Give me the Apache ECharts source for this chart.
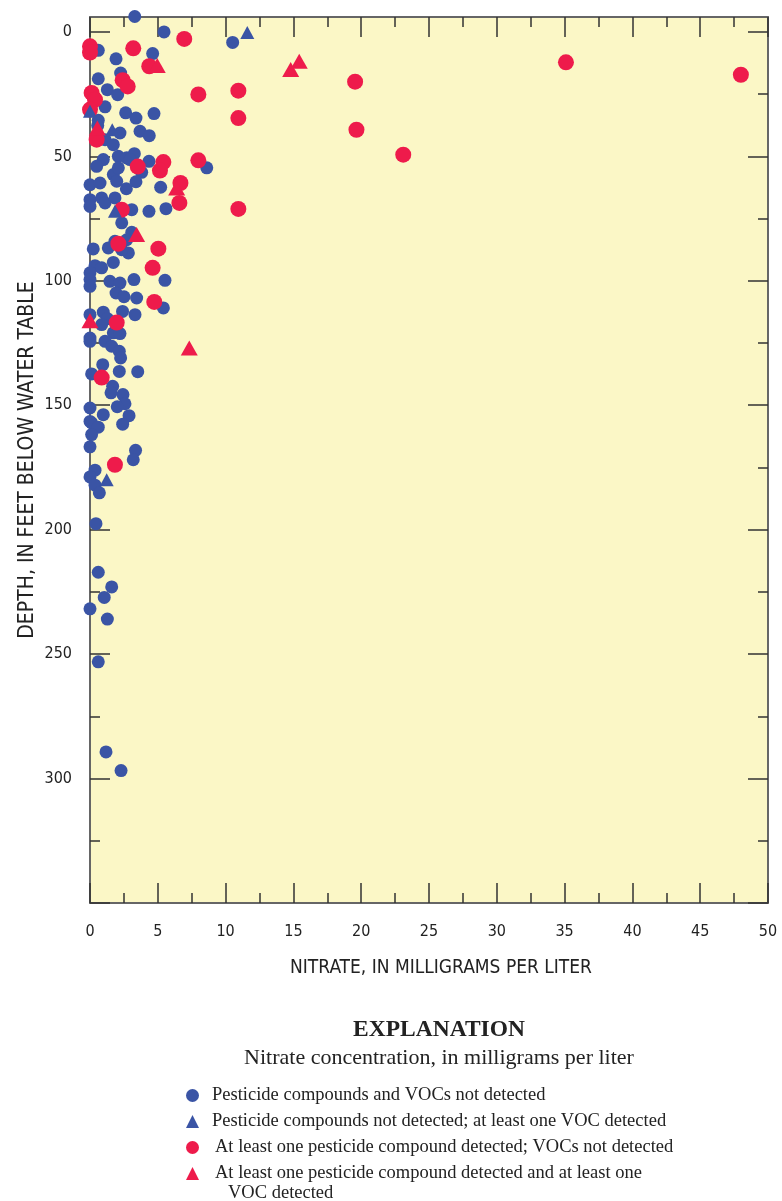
<!DOCTYPE html>
<html>
<head>
<meta charset="utf-8">
<script src="https://cdn.jsdelivr.net/npm/echarts@6/dist/echarts.min.js"></script>
<style>
  html, body { margin: 0; padding: 0; background: #ffffff; }
  #chart { width: 782px; height: 1201px; }
</style>
</head>
<body>
<div id="chart"></div>
<script>
// Nitrate (mg/L) versus depth below the water table (ft), by detection class.
const noDetect = [
  [3.3,-6.2],[5.46,0],[10.52,4.2],[0.61,7.4],[4.62,8.7],[1.92,10.8],[2.26,16.5],[0.61,18.8],
  [1.28,23.2],[2.04,25.2],[1.11,30.1],[2.63,32.5],[3.39,34.6],[4.72,32.8],[0.61,35.5],[0.57,37.6],
  [2.21,40.6],[3.69,39.9],[4.37,41.7],[1.11,43.3],[1.72,45.3],[0.98,51.3],[2.09,50.0],[2.71,50.6],
  [3.27,48.9],[4.35,52.0],[8.61,54.6],[0.49,54.0],[1.72,57.3],[2.09,54.6],[3.81,56.4],[0,61.4],
  [0.74,60.7],[1.97,60.0],[2.68,63.0],[3.39,60.2],[5.21,62.4],[0,67.4],[0,70.1],[0.86,66.7],
  [1.11,68.7],[1.84,66.7],[3.08,71.4],[4.35,72.1],[5.6,71.0],[2.34,76.7],[3.08,80.5],[2.71,83.5],
  [1.84,84.1],[1.35,86.8],[0.24,87.2],[2.83,88.8],[2.34,87.5],[1.72,92.6],[0.37,93.9],[0.86,94.8],
  [0,96.8],[0,99.5],[1.47,100.2],[2.21,100.9],[3.24,99.5],[5.53,99.8],[0,102.2],[1.92,104.9],
  [2.51,106.4],[3.44,106.9],[5.41,110.9],[2.40,112.3],[3.32,113.6],[0,113.6],[0.98,112.6],[1.29,115.2],
  [0.86,117.6],[1.72,120.9],[2.21,121.2],[0,123.0],[0,124.3],[1.11,124.3],[1.6,126.3],[2.16,128.3],
  [2.26,131.0],[0.94,133.7],[0.12,137.4],[2.16,136.4],[3.52,136.5],[1.67,142.4],[1.55,145.0],[2.43,145.7],
  [2.58,149.4],[2.01,150.6],[0,151.1],[0.98,153.8],[2.88,154.2],[0,156.5],[0.12,157.1],[0.61,158.8],
  [2.41,157.6],[0.12,161.8],[0,166.7],[3.36,168.1],[3.19,171.9],[0.37,176.1],[0,178.8],[0.37,182.1],
  [0.69,185.2],[0.44,197.6],[0.61,217.1],[1.6,223.0],[1.05,227.2],[0,231.8],[1.28,235.9],[0.61,253.1],
  [1.18,289.3],[2.29,296.8],[2.95,51.3]
];
const vocOnly = [
  [11.6,0.2],[0,31.9],[1.64,39.3],[1.84,72.1],[1.23,179.9]
];
const pesticideOnly = [
  [6.95,2.8],[0,5.8],[0,8.3],[3.19,6.6],[4.37,13.8],[2.41,19.4],[2.78,21.9],[7.99,25.1],
  [10.94,23.6],[10.94,34.6],[0.12,24.5],[0.37,27.2],[0,31.2],[0.49,43.3],[3.52,54.1],[5.41,52.3],
  [5.16,55.7],[7.99,51.6],[6.67,60.7],[6.59,68.7],[2.34,71.4],[10.94,71.1],[2.09,85.1],[5.04,87.1],
  [4.62,94.8],[4.74,108.5],[1.97,116.8],[0.86,138.9],[1.84,173.9],[35.1,12.2],[48.0,17.2],[19.55,20.0],
  [19.65,39.3],[23.1,49.3]
];
const pesticideAndVoc = [
  [4.96,13.5],[0.54,38.6],[6.39,62.7],[3.44,81.4],[0,116.0],[7.32,127.0],[14.8,15.1],[15.43,11.8]
];

const seriesNames = [
  'Pesticide compounds and VOCs not detected',
  'Pesticide compounds not detected; at least one VOC detected',
  'At least one pesticide compound detected; VOCs not detected',
  'At least one pesticide compound detected and at least one'
];

const depthLabels = [0, 50, 100, 150, 200, 250, 300];
const depthMajor = [0, 50, 100, 150, 200, 250, 300, 350];
const depthMinor = [25, 75, 125, 175, 225, 275, 325];

const BLUE = '#3a54a5';
const RED = '#ee1b4b';
const AXIS = '#666666';
const TICK = '#333333';
const narrow = '"Liberation Sans Narrow", "DejaVu Sans Condensed", sans-serif';
const serif = '"Liberation Serif", "DejaVu Serif", serif';

const gridRect = { left: 90, top: 17, width: 678, height: 886 };
const tickStyle = { color: TICK, width: 1.5 };

function xAxisDef(pos, gridIndex, withLabels) {
  return {
    type: 'value', gridIndex, position: pos, min: 0, max: 50, interval: 5,
    axisLine: { show: true, onZero: false, lineStyle: { color: AXIS, width: 2 } },
    axisTick: { show: true, inside: true, length: 20, lineStyle: tickStyle },
    minorTick: { show: true, splitNumber: 2, length: 10, lineStyle: tickStyle },
    splitLine: { show: false },
    axisLabel: withLabels
      ? { show: true, margin: 21, color: '#222', fontFamily: narrow, fontSize: 16 }
      : { show: false },
    name: withLabels ? 'NITRATE, IN MILLIGRAMS PER LITER' : '',
    nameLocation: 'middle', nameGap: 56,
    nameTextStyle: { color: '#222', fontFamily: narrow, fontSize: 19, padding: [0, 0, 0, 24] }
  };
}

function yAxisDef(pos, gridIndex, ticks, len, withLabels, showLine) {
  return {
    type: 'value', gridIndex, position: pos, inverse: true, min: -6, max: 350,
    axisLine: { show: showLine, onZero: false, lineStyle: { color: AXIS, width: 2 } },
    axisTick: { show: true, inside: true, length: len, customValues: ticks, lineStyle: tickStyle },
    splitLine: { show: false },
    axisLabel: withLabels
      ? { show: true, customValues: depthLabels, margin: 18, color: '#222', fontFamily: narrow, fontSize: 16, padding: [9, 0, 0, 0] }
      : { show: false },
    name: withLabels ? 'DEPTH, IN FEET BELOW WATER TABLE' : '',
    nameLocation: 'middle', nameGap: 52, nameRotate: 90, nameMoveOverlap: false,
    nameTextStyle: { color: '#222', fontFamily: narrow, fontSize: 21 }
  };
}

const chart = echarts.init(document.getElementById('chart'), null, { renderer: 'canvas' });

chart.setOption({
  animation: false,
  backgroundColor: '#ffffff',
  grid: [
    Object.assign({ show: true, backgroundColor: '#fbf7c6', borderWidth: 0 }, gridRect),
    Object.assign({ show: false }, gridRect)
  ],
  xAxis: [
    xAxisDef('bottom', 0, true),
    xAxisDef('top', 0, false),
    { type: 'value', gridIndex: 1, min: 0, max: 50, show: false }
  ],
  yAxis: [
    yAxisDef('left', 0, depthMajor, 20, true, true),
    yAxisDef('right', 0, depthMajor, 20, false, true),
    yAxisDef('left', 1, depthMinor, 10, false, false),
    yAxisDef('right', 1, depthMinor, 10, false, false)
  ],
  legend: {
    orient: 'vertical', left: 181, top: 1080, itemGap: 5,
    itemWidth: 13, itemHeight: 13, selectedMode: false,
    textStyle: { fontFamily: serif, fontSize: 18.5, color: '#222', lineHeight: 21, padding: [0, 0, 0, 8] },
    data: [
      { name: seriesNames[0], icon: 'circle' },
      { name: seriesNames[1], icon: 'triangle' },
      { name: seriesNames[2], icon: 'circle', textStyle: { padding: [0, 0, 0, 11] } },
      { name: seriesNames[3], icon: 'triangle', textStyle: { padding: [0, 0, 0, 11] } }
    ]
  },
  graphic: [
    { type: 'text', x: 439, y: 1030, style: { text: 'EXPLANATION', textAlign: 'center', textVerticalAlign: 'middle', fontFamily: serif, fontWeight: 'bold', fontSize: 23.5, fill: '#222' } },
    { type: 'text', x: 439, y: 1058, style: { text: 'Nitrate concentration, in milligrams per liter', textAlign: 'center', textVerticalAlign: 'middle', fontFamily: serif, fontSize: 22, fill: '#222' } },
    { type: 'text', x: 228, y: 1193, style: { text: 'VOC detected', textAlign: 'left', textVerticalAlign: 'middle', fontFamily: serif, fontSize: 18.5, fill: '#222' } }
  ],
  series: [
    { name: seriesNames[0], type: 'scatter', xAxisIndex: 0, yAxisIndex: 0, clip: false,
      symbol: 'circle', symbolSize: 13, itemStyle: { color: BLUE, opacity: 1 }, data: noDetect, z: 3 },
    { name: seriesNames[2], type: 'scatter', xAxisIndex: 0, yAxisIndex: 0, clip: false,
      symbol: 'circle', symbolSize: 16, itemStyle: { color: RED, opacity: 1 }, data: pesticideOnly, z: 4 },
    { name: seriesNames[1], type: 'scatter', xAxisIndex: 0, yAxisIndex: 0, clip: false,
      symbol: 'triangle', symbolSize: [14, 13], itemStyle: { color: BLUE, opacity: 1 }, data: vocOnly, z: 5 },
    { name: seriesNames[3], type: 'scatter', xAxisIndex: 0, yAxisIndex: 0, clip: false,
      symbol: 'triangle', symbolSize: [17, 15], itemStyle: { color: RED, opacity: 1 }, data: pesticideAndVoc, z: 5 }
  ]
});
</script>
</body>
</html>
